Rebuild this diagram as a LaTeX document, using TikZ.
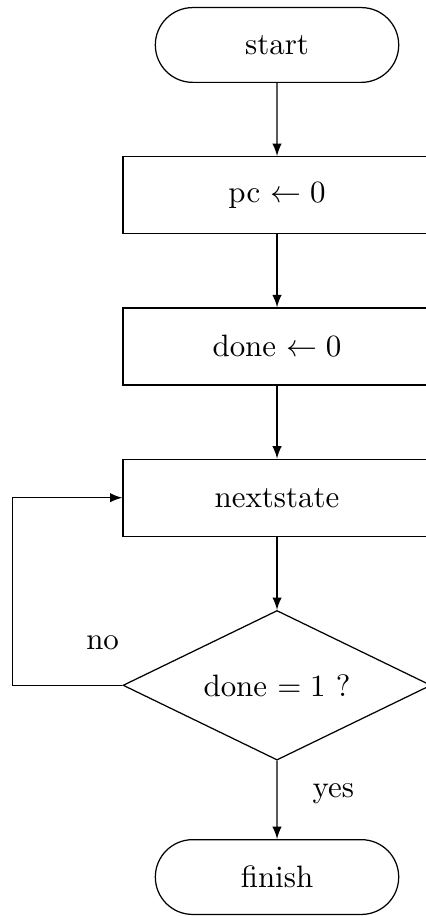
\documentclass[tikz,border=0pt]{standalone}
\usepackage{amsmath}
\usepackage{amssymb}
\usepackage{tikz}
\usetikzlibrary{positioning}
\usetikzlibrary{shapes.misc,shapes.geometric}

\begin{document}
\begin{tikzpicture}[node distance=0.83cm,
    terminal/.style={rounded rectangle,draw,minimum width=3cm,minimum height=0.85cm},
    process/.style={rectangle,draw,minimum width=3.5cm,minimum height=0.875cm},
    decision/.style={diamond,draw,aspect=2,inner sep=0pt,minimum width=3.5cm,minimum height=1.7cm}]
  \path[use as bounding box,clip] (-3.148,0.511) rectangle (1.693,-9.898);

  \node[terminal] (start) {start};
  \node[process,  below=of start] (pc)   {pc $\leftarrow 0$};
  \node[process,  below=of pc]    (done) {done $\leftarrow 0$};
  \node[process,  below=of done]  (next) {nextstate};
  \node[decision, below=of next]  (test) {done $= 1$ ?};
  \node[terminal, below=0.89cm of test] (finish) {finish};

  \path[-latex]
    (start) edge (pc)
    (pc)    edge (done)
    (done)  edge (next)
    (next)  edge (test)
    (test)  edge node [right=0.28cm,pos=0.42] {yes} (finish);
  \draw[-latex] (test.west) -- node [above=0.28cm,pos=0.18] {no} ++(-1.25,0)
    |- (next.west);
\end{tikzpicture}
\end{document}
